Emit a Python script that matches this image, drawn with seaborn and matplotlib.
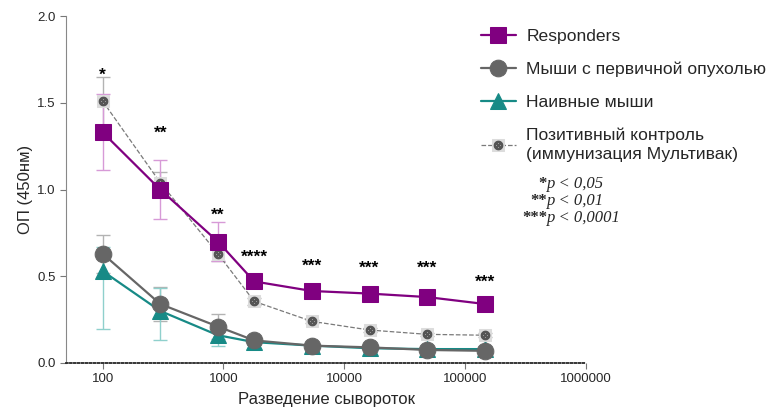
import numpy as np
import pandas as pd
import matplotlib
matplotlib.use("Agg")
import matplotlib.pyplot as plt
import seaborn as sns
from matplotlib.legend_handler import HandlerTuple
from matplotlib.ticker import FixedLocator, NullLocator

# -----------------------------
# Data
# -----------------------------
dilutions = [100, 300, 900, 1800, 5400, 16200, 48600, 145800]

responders = [1.33, 1.00, 0.70, 0.47, 0.415, 0.40, 0.38, 0.34]
responders_err = [0.22, 0.17, 0.11, 0.03, 0.03, 0.04, 0.04, 0.02]

tumor = [0.63, 0.34, 0.21, 0.13, 0.10, 0.09, 0.075, 0.07]
tumor_err = [0.11, 0.10, 0.07, 0.02, 0.01, 0.01, 0.01, 0.01]

naive = [0.53, 0.30, 0.16, 0.12, 0.10, 0.085, 0.08, 0.08]
naive_err_lo = [0.335, 0.17, 0.06, 0.01, 0.01, 0.01, 0.01, 0.01]
naive_err_hi = [0.14, 0.13, 0.06, 0.01, 0.01, 0.01, 0.01, 0.01]

positive = [1.51, 1.04, 0.63, 0.355, 0.24, 0.19, 0.165, 0.16]
positive_err = [0.14, 0.06, 0.04, 0.02, 0.01, 0.01, 0.01, 0.01]

star_labels = ["*", "**", "**", "****", "***", "***", "***", "***"]
star_y = [1.66, 1.325, 0.85, 0.61, 0.56, 0.545, 0.545, 0.465]

pvalue_stars = ["*", "**", "***"]
pvalue_texts = ["p < 0,05", "p < 0,01", "p < 0,0001"]

names = ["Responders", "Мыши с первичной опухолью", "Наивные мыши",
         "Позитивный контроль\n(иммунизация Мультивак)"]

# -----------------------------
# Style
# -----------------------------
sns.set_style("ticks")
plt.rcParams['font.family'] = ['Liberation Sans', 'DejaVu Sans']

purple = "#800080"
purple_err = "#d79ad7"
gray = "#666666"
gray_err = "#b3b3b3"
teal = "#178a86"
teal_err = "#8fd0cc"
pos_line = "#7a7a7a"
pos_fill = "#dcdcdc"

fig = plt.figure(figsize=(7.79, 4.12), dpi=100)
ax = fig.add_axes([0.085, 0.119, 0.667, 0.842])

# error bars first
ax.errorbar(dilutions, positive, yerr=positive_err, fmt="none",
            ecolor=gray_err, elinewidth=1, capsize=5, zorder=1)
ax.errorbar(dilutions, responders, yerr=responders_err, fmt="none",
            ecolor=purple_err, elinewidth=1, capsize=5, zorder=1)
ax.errorbar(dilutions, tumor, yerr=tumor_err, fmt="none",
            ecolor=gray_err, elinewidth=1, capsize=5, zorder=1)
ax.errorbar(dilutions, naive, yerr=[naive_err_lo, naive_err_hi], fmt="none",
            ecolor=teal_err, elinewidth=1, capsize=5, zorder=1)

# lines + markers
sns.lineplot(x=dilutions, y=naive, ax=ax, color=teal, marker="^",
             markersize=11, markeredgecolor=teal, linewidth=1.6, zorder=3)
h_naive = ax.get_lines()[-1]
sns.lineplot(x=dilutions, y=tumor, ax=ax, color=gray, marker="o",
             markersize=12, markeredgecolor=gray, linewidth=1.6, zorder=4)
h_tumor = ax.get_lines()[-1]
sns.lineplot(x=dilutions, y=positive, ax=ax, color=pos_line, marker="s",
             markersize=8, markerfacecolor=pos_fill, markeredgecolor=pos_fill,
             linewidth=0.9, linestyle="--", zorder=5)
h_pos = ax.get_lines()[-1]
h_posx, = ax.plot(dilutions, positive, linestyle="none", marker=r"$\otimes$",
                  markersize=6, color="#555555", zorder=6)
sns.lineplot(x=dilutions, y=responders, ax=ax, color=purple, marker="s",
             markersize=12, markeredgecolor=purple, linewidth=1.6, zorder=7)
h_resp = ax.get_lines()[-1]

# significance stars
for x, y, s in zip(dilutions, star_y, star_labels):
    ax.text(x, y, s, ha="center", va="center", fontsize=12.5,
            fontweight="bold", color="black")

# -----------------------------
# Axes
# -----------------------------
ax.set_xscale("log")
ax.set_xlim(50, 1e6)
ax.set_ylim(0, 2.0)
ax.xaxis.set_major_locator(FixedLocator([100, 1000, 10000, 100000, 1000000]))
ax.xaxis.set_minor_locator(NullLocator())
ax.set_xticklabels(["100", "1000", "10000", "100000", "1000000"])
ax.set_yticks([0.0, 0.5, 1.0, 1.5, 2.0])
ax.set_yticklabels(["0.0", "0.5", "1.0", "1.5", "2.0"])
ax.tick_params(labelsize=9.5, length=4, color="#777777")
sns.despine(ax=ax)
ax.spines["left"].set_color("#888888")
ax.spines["bottom"].set_linestyle((0, (1, 1.2)))
ax.spines["bottom"].set_linewidth(1.3)
ax.set_xlabel("Разведение сывороток", fontsize=12, labelpad=5)
ax.set_ylabel("ОП (450нм)", fontsize=12, labelpad=3)

# -----------------------------
# Legend
# -----------------------------
handles = [h_resp, h_tumor, h_naive, (h_pos, h_posx)]
leg = fig.legend(handles, names, loc="upper left", bbox_to_anchor=(0.597, 0.968),
                 frameon=False, fontsize=12.6, handlelength=2.0, labelspacing=1.0,
                 handletextpad=0.6,
                 handler_map={tuple: HandlerTuple(ndivide=1, pad=0)})
leg.get_texts()[3].set_linespacing(1.35)

# p-value notes
for i, (st, pt) in enumerate(zip(pvalue_stars, pvalue_texts)):
    yy = 1 - (184 + 17 * i) / 412
    fig.text(547 / 779, yy, st, ha="right", va="center", fontsize=12,
             family="Liberation Serif", fontweight="bold")
    fig.text(547 / 779, yy, pt, ha="left", va="center", fontsize=12,
             family="Liberation Serif", style="italic")

fig.savefig("out.png", dpi=100)
